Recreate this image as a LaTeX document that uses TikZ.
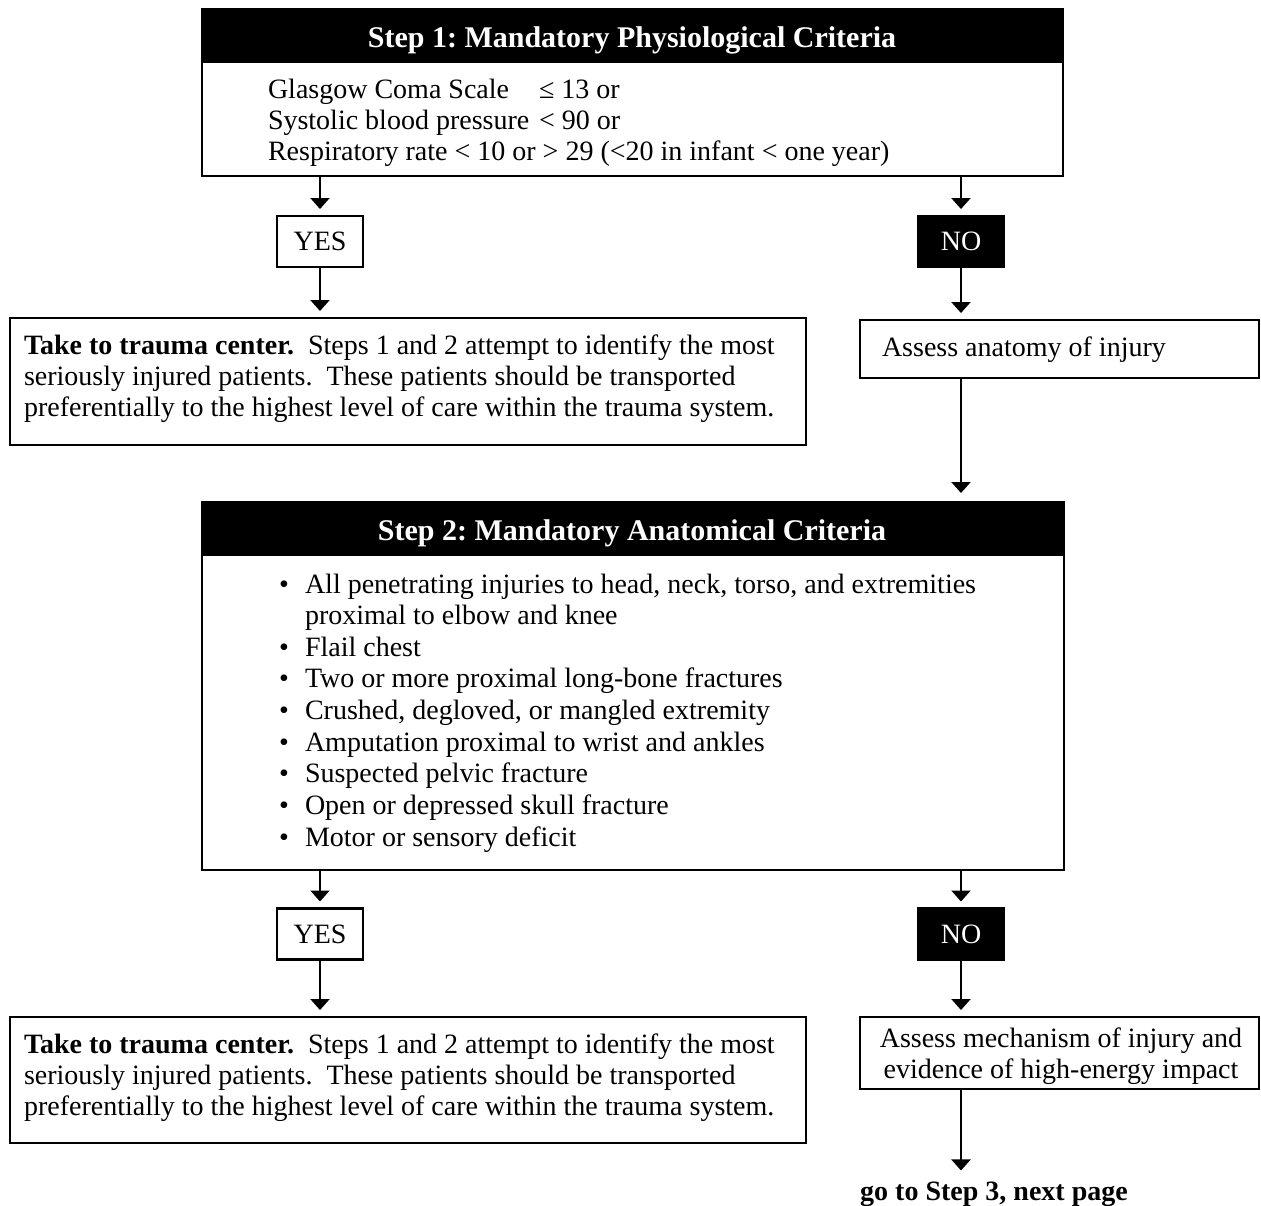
\documentclass[tikz,border=0pt]{standalone}
\usepackage{fontspec}
\setmainfont{Liberation Serif}
\usetikzlibrary{arrows.meta}
\frenchspacing
\begin{document}
\begin{tikzpicture}[x=1pt,y=-1pt,
  every node/.style={font=\fontsize{28}{31}\selectfont, inner sep=0pt, outer sep=0pt},
  frame/.style={draw=black, line width=2.3pt, rectangle},
  head/.style={fill=black, draw=black, line width=2.3pt, rectangle, anchor=north west, minimum height=53pt},
  headtxt/.style={text=white, anchor=base, font=\fontsize{30}{32}\selectfont\bfseries},
  yesbox/.style={frame, minimum width=86pt, minimum height=51pt},
  nobox/.style={fill=black, draw=black, line width=2.3pt, rectangle, text=white, minimum width=86pt, minimum height=51pt},
  ln/.style={anchor=base west},
  arr/.style={line width=2.3pt, -{Triangle[width=19pt,length=11pt]}, shorten >=7pt},
]
\path[fill=white, use as bounding box] (0,0) rectangle (1261,1205);

% ---------- Step 1 ----------
\node[head, minimum width=861pt] (s1h) at (202,9) {};
\node[frame, anchor=north west, minimum width=861pt, minimum height=167pt] (s1) at (202,9) {};
\node[headtxt] (s1t) at (632,47) {Step 1: Mandatory Physiological Criteria};
\node[ln] (g1a) at (268,98) {Glasgow Coma Scale};
\node[ln] (g1b) at (539,98) {≤ 13 or};
\node[ln] (g2a) at (268,129) {Systolic blood pressure};
\node[ln] (g2b) at (539,129) {< 90 or};
\node[ln] (g3) at (268,160) {Respiratory rate < 10 or > 29 (<20 in infant < one year)};

\node[yesbox] (yes1) at (320,241.5) {YES};
\node[nobox] (no1) at (961,241.5) {NO};

\node[frame, anchor=north west, minimum width=796pt, minimum height=127pt] (t1) at (10,318) {};
\node[ln] (t1a) at (24,354) {\textbf{Take to trauma center.}\ \ Steps 1 and 2 attempt to identify the most};
\node[ln] (t1b) at (24,385) {seriously injured patients.\ \ These patients should be transported};
\node[ln] (t1c) at (24,416) {preferentially to the highest level of care within the trauma system.};

\node[frame, anchor=north west, minimum width=399pt, minimum height=58pt] (as1) at (860,320) {};
\node[ln] (as1t) at (882,356) {Assess anatomy of injury};

\draw[arr] (s1.south -| yes1.north) -- (yes1.north);
\draw[arr] (yes1.south) -- (yes1.south |- t1.north);
\draw[arr] (s1.south -| no1.north) -- (no1.north);
\draw[arr] (no1.south) -- (no1.south |- as1.north);

% ---------- Step 2 ----------
\node[head, minimum width=862pt] (s2h) at (202,502) {};
\node[frame, anchor=north west, minimum width=862pt, minimum height=368pt] (s2) at (202,502) {};
\node[headtxt] (s2t) at (632,540) {Step 2: Mandatory Anatomical Criteria};

\draw[arr, shorten >=9pt] (as1.south -| no1.south) -- (s2.north -| no1.south);

\foreach \k/\txt/\bul in {0/{All penetrating injuries to head, neck, torso, and extremities}/1,
                          1/{proximal to elbow and knee}/0,
                          2/{Flail chest}/1,
                          3/{Two or more proximal long-bone fractures}/1,
                          4/{Crushed, degloved, or mangled extremity}/1,
                          5/{Amputation proximal to wrist and ankles}/1,
                          6/{Suspected pelvic fracture}/1,
                          7/{Open or depressed skull fracture}/1,
                          8/{Motor or sensory deficit}/1}{
  \node[ln] (c\k) at (305,{593+31.65*\k}) {\txt};
  \ifnum\bul=1 \node[ln] (d\k) at (279,{593+31.65*\k}) {•};\fi
}

\node[yesbox] (yes2) at (320,934) {YES};
\node[nobox] (no2) at (961,934) {NO};

\node[frame, anchor=north west, minimum width=796pt, minimum height=126pt] (t2) at (10,1017) {};
\node[ln] (t2a) at (24,1053) {\textbf{Take to trauma center.}\ \ Steps 1 and 2 attempt to identify the most};
\node[ln] (t2b) at (24,1084) {seriously injured patients.\ \ These patients should be transported};
\node[ln] (t2c) at (24,1115) {preferentially to the highest level of care within the trauma system.};

\node[frame, anchor=north west, minimum width=399pt, minimum height=72pt] (am) at (860,1017) {};
\node[anchor=base] (ama) at (1061,1047) {Assess mechanism of injury and};
\node[anchor=base] (amb) at (1061,1078) {evidence of high-energy impact};

\node[anchor=base, font=\fontsize{28}{31}\selectfont\bfseries] (go) at (994,1200) {go to Step 3, next page};

\draw[arr] (s2.south -| yes2.north) -- (yes2.north);
\draw[arr] (yes2.south) -- (yes2.south |- t2.north);
\draw[arr] (s2.south -| no2.north) -- (no2.north);
\draw[arr] (no2.south) -- (no2.south |- am.north);
\draw[arr, shorten >=11pt] (am.south -| no2.south) -- (go.north -| no2.south);
\end{tikzpicture}
\end{document}
